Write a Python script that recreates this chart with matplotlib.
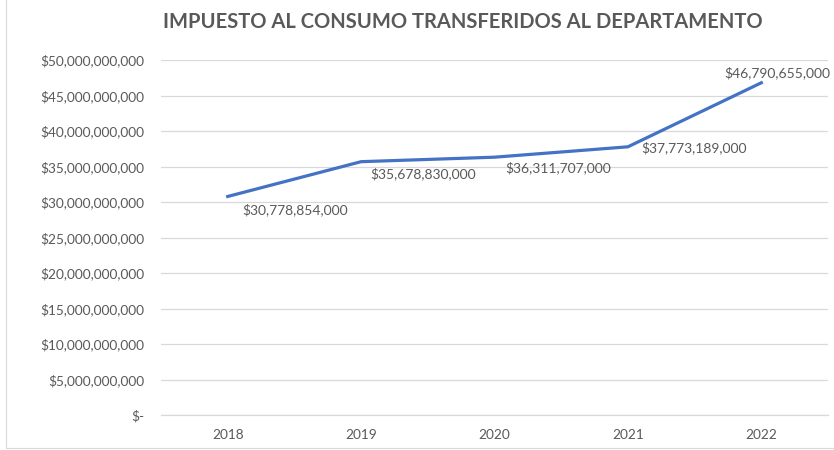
import matplotlib.pyplot as plt
from matplotlib.ticker import FuncFormatter, MultipleLocator
from matplotlib.patches import Rectangle

# Datos del gráfico
anios = ["2018", "2019", "2020", "2021", "2022"]
valores = [30778854000, 35678830000, 36311707000, 37773189000, 46790655000]
etiquetas = ["$30,778,854,000", "$35,678,830,000", "$36,311,707,000",
             "$37,773,189,000", "$46,790,655,000"]

# desplazamiento de cada etiqueta (pixeles)
desplazamientos = [(15, -13), (9, -12), (11, -11), (13, -1), (-37, 10)]

plt.rcParams['font.family'] = ['Lato', 'DejaVu Sans']
gris = '#595959'

fig = plt.figure(figsize=(8.34, 4.5), dpi=100)
ax = fig.add_axes([161 / 834, 1 - 415 / 450, 667 / 834, 355 / 450])

x = list(range(len(anios)))
ax.plot(x, valores, color='#4472C4', linewidth=2.3, solid_joinstyle='miter')

for i, (v, txt) in enumerate(zip(valores, etiquetas)):
    dx, dy = desplazamientos[i]
    ax.annotate(txt, (x[i], v), xytext=(dx, dy), textcoords='offset pixels',
                ha='left', va='center', fontsize=10, color=gris,
                annotation_clip=False, clip_on=False)

ax.set_xlim(-0.5, len(anios) - 0.5)
ax.set_ylim(0, 50e9)
ax.yaxis.set_major_locator(MultipleLocator(5e9))


def formato(v, pos):
    if v == 0:
        return "$-"
    return "${:,.0f}".format(v)


ax.yaxis.set_major_formatter(FuncFormatter(formato))
ax.set_xticks(x)
ax.set_xticklabels(anios)

ax.grid(axis='y', color='#D9D9D9', linewidth=0.9)
ax.set_axisbelow(True)
for lado in ['top', 'right', 'left']:
    ax.spines[lado].set_visible(False)
ax.spines['bottom'].set_color('#D9D9D9')
ax.spines['bottom'].set_linewidth(0.9)
ax.tick_params(length=0, colors=gris, labelsize=9.8)
ax.tick_params(axis='y', pad=12)
ax.tick_params(axis='x', pad=10)

fig.text(463 / 834, 1 - 22 / 450, "IMPUESTO AL CONSUMO TRANSFERIDOS AL DEPARTAMENTO",
         ha='center', va='center', fontsize=14.5, fontweight='bold', color=gris)

# borde del área del gráfico
fig.patches.append(Rectangle((6 / 834, 2 / 450), 1.0, 1.0, transform=fig.transFigure,
                             fill=False, edgecolor='#D9D9D9', linewidth=0.8))

fig.savefig('out.png', dpi=100)
